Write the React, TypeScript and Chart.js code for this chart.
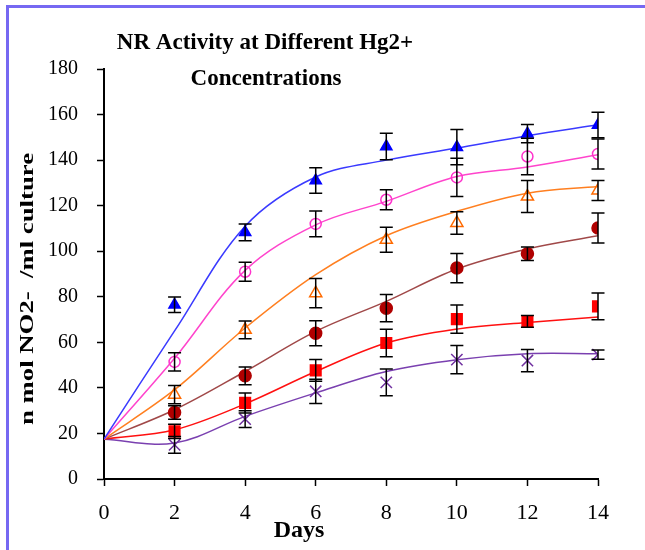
import React, { useEffect, useRef } from "react";
import { Chart, registerables } from "chart.js";
Chart.register(...registerables);

const titleLines = ["NR Activity at Different Hg2+", "Concentrations"];
const xTitle = "Days";
const yTitle = "n mol NO2-  /ml culture";

const fitDays = [0, 2, 4, 6, 8, 10, 12, 14];
const obsDays = [2, 4, 6, 8, 10, 12, 14];

const blueVals = [76.5, 108.3, 131, 146, 145.7, 151.6, 155.4];
const blueErr = [3.4, 3.7, 5.6, 5.8, 7.7, 4, 5.6];
const blueFit = [17.5, 65, 111, 132.6, 140, 145.3, 150.7, 155.5];

const pinkVals = [51.4, 91, 112, 122.6, 132.4, 141.6, 142.7];
const pinkErr = [4, 4.2, 5.7, 4.4, 8.4, 8, 6.6];
const pinkFit = [17.5, 53, 91.6, 111.6, 121.9, 132.8, 137, 142.4];

const orangeVals = [37, 65.5, 81.6, 105, 112.4, 124, 126.7];
const orangeErr = [4, 3.9, 6.4, 5.5, 4.9, 7, 4.4];
const orangeFit = [17.5, 39.2, 66.3, 89.7, 106.8, 117.5, 125.5, 128.4];

const darkRedVals = [29.2, 45.3, 64, 75, 92.6, 98.9, 110.2];
const darkRedErr = [3, 3.9, 5.5, 6, 6.4, 3, 6.6];
const brownFit = [17.5, 30.4, 47.2, 64.8, 78, 92.2, 101, 106.8];

const redVals = [20.9, 33.4, 47.7, 59.7, 70.2, 69.2, 75.8];
const redErr = [3.1, 4.4, 4.8, 6, 6.2, 2.6, 5.9];
const redFit = [17.5, 21.6, 33, 47.2, 59.7, 65.8, 68.7, 71.1];

const purpleVals = [15, 26.3, 38.5, 42.4, 52.4, 52, 54.6];
const purpleErr = [3.7, 3.7, 5.3, 5.9, 6.2, 4.9, 2];
const purpleFit = [17.5, 15.8, 27.5, 37.8, 47.2, 52.4, 55, 55];

const xTicks = [0, 2, 4, 6, 8, 10, 12, 14];
const yTicks = [0, 20, 40, 60, 80, 100, 120, 140, 160, 180];

const pts = (xs: number[], ys: number[]) => xs.map((x, i) => ({ x, y: ys[i] }));

export default function App() {
  const ref = useRef<HTMLCanvasElement>(null);
  useEffect(() => {
    const canvas = ref.current!;
    const errSets = [
      { v: blueVals, e: blueErr },
      { v: pinkVals, e: pinkErr },
      { v: orangeVals, e: orangeErr },
      { v: darkRedVals, e: darkRedErr },
      { v: redVals, e: redErr },
      { v: purpleVals, e: purpleErr },
    ];
    const fitLine = (data: number[], color: string) => ({
      data: pts(fitDays, data),
      borderColor: color,
      borderWidth: 1.5,
      pointRadius: 0,
      tension: 0.35,
      fill: false,
      order: 2,
    });
    const markers = (data: number[], style: string, radius: number, border: string, bg: string, bw = 1.5) => ({
      data: pts(obsDays, data),
      showLine: false,
      pointStyle: style,
      pointRadius: radius,
      pointBorderColor: border,
      pointBackgroundColor: bg,
      pointBorderWidth: bw,
      borderColor: border,
      backgroundColor: bg,
      order: 1,
    });
    const textPlugin = {
      id: "texts",
      afterDatasetsDraw(chart: any) {
        const ctx = chart.ctx as CanvasRenderingContext2D;
        const xs = chart.scales.x;
        const ys = chart.scales.y;
        ctx.save();
        ctx.strokeStyle = "#000";
        ctx.lineWidth = 1.5;
        errSets.forEach((s) => {
          s.v.forEach((v, i) => {
            const px = xs.getPixelForValue(obsDays[i]);
            const top = ys.getPixelForValue(v + s.e[i]);
            const bot = ys.getPixelForValue(v - s.e[i]);
            ctx.beginPath();
            ctx.moveTo(px, top);
            ctx.lineTo(px, bot);
            ctx.moveTo(px - 6.5, top);
            ctx.lineTo(px + 6.5, top);
            ctx.moveTo(px - 6.5, bot);
            ctx.lineTo(px + 6.5, bot);
            ctx.stroke();
          });
        });
        ctx.restore();
      },
      afterDraw(chart: any) {
        const ctx = chart.ctx as CanvasRenderingContext2D;
        ctx.save();
        ctx.fillStyle = "#000";
        ctx.textAlign = "center";
        ctx.textBaseline = "middle";
        ctx.font = "bold 23px 'Liberation Serif'";
        ctx.fillText(titleLines[0], 265, 43);
        ctx.fillText(titleLines[1], 266, 79);
        ctx.font = "bold 24px 'Liberation Serif'";
        ctx.fillText(xTitle, 299, 531);
        ctx.translate(28, 289);
        ctx.rotate(-Math.PI / 2);
        ctx.font = "bold 19px 'Liberation Serif'";
        const w = ctx.measureText(yTitle).width;
        ctx.scale(272 / w, 1);
        ctx.fillText(yTitle, 0, 0);
        ctx.restore();
      },
    };
    const chart = new Chart(canvas, {
      type: "line",
      data: {
        datasets: [
          fitLine(blueFit, "#3a3aff"),
          fitLine(pinkFit, "#ff44cc"),
          fitLine(orangeFit, "#ff7f20"),
          fitLine(brownFit, "#a04848"),
          fitLine(redFit, "#ff1010"),
          fitLine(purpleFit, "#7a40b0"),
          markers(blueVals, "triangle", 6.5, "#0000ff", "#0000ff"),
          markers(pinkVals, "circle", 5.5, "#ff33cc", "rgba(0,0,0,0)"),
          markers(orangeVals, "triangle", 7, "#ff6a00", "rgba(0,0,0,0)"),
          markers(darkRedVals, "circle", 6, "#b00000", "#b00000"),
          markers(redVals, "rect", 7.5, "#ff0000", "#ff0000"),
          markers(purpleVals, "crossRot", 8, "#7030a0", "#7030a0"),
        ] as any,
      },
      options: {
        animation: false,
        responsive: false,
        maintainAspectRatio: false,
        layout: { padding: { left: 0, top: 69, right: 47, bottom: 0 } },
        plugins: { legend: { display: false }, tooltip: { enabled: false }, title: { display: false } },
        scales: {
          x: {
            type: "linear",
            min: 0,
            max: 14,
            afterFit: (s: any) => { s.height = 71; },
            afterBuildTicks: (s: any) => { s.ticks = xTicks.map((v) => ({ value: v })); },
            grid: { drawOnChartArea: false, drawTicks: true, tickLength: 7, color: "#000", tickWidth: 1.5 },
            border: { display: true, color: "#000", width: 2 },
            ticks: { color: "#000", font: { family: "'Liberation Serif'", size: 22 }, padding: 14, maxRotation: 0 },
          },
          y: {
            type: "linear",
            min: 0,
            max: 180,
            afterFit: (s: any) => { s.width = 104; },
            afterBuildTicks: (s: any) => { s.ticks = yTicks.map((v) => ({ value: v })); },
            grid: { drawOnChartArea: false, drawTicks: true, tickLength: 7, color: "#000", tickWidth: 1.5 },
            border: { display: true, color: "#000", width: 2 },
            ticks: { color: "#000", font: { family: "'Liberation Serif'", size: 20 }, padding: 19 },
          },
        },
      },
      plugins: [textPlugin],
    });
    return () => chart.destroy();
  }, []);
  return (
    <div style={{ position: "fixed", left: 0, top: 0, width: 645, height: 550, background: "#fff" }}>
      <div
        style={{
          position: "absolute",
          left: 6,
          top: 5,
          width: 700,
          height: 600,
          borderLeft: "3px solid #7668f2",
          borderTop: "3px solid #7668f2",
          boxSizing: "border-box",
        }}
      />
      <canvas ref={ref} width={645} height={550} style={{ position: "absolute", left: 0, top: 0, display: "block" }} />
    </div>
  );
}
